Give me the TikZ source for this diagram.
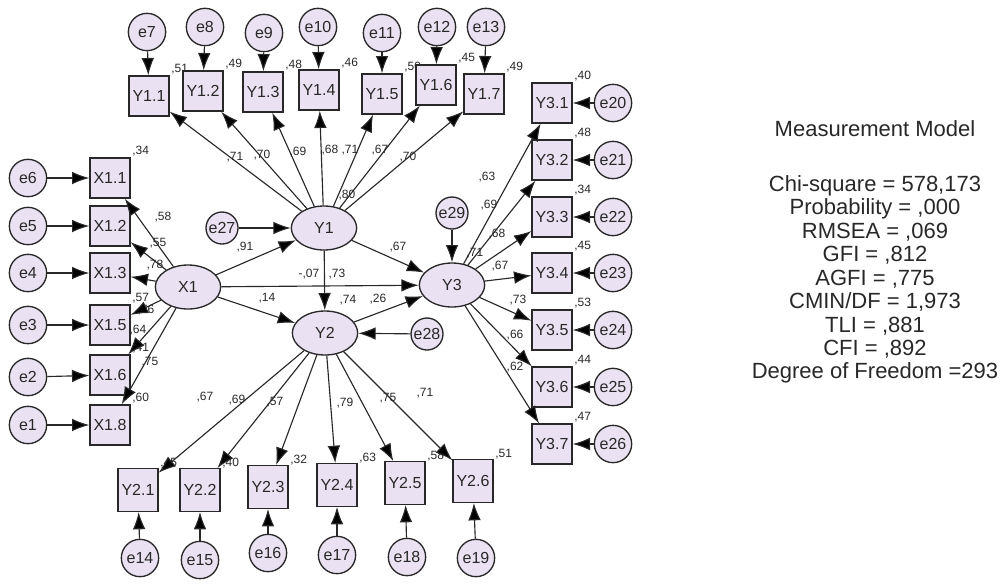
\documentclass[tikz,border=0pt]{standalone}
\usepackage{fontspec}
\setmainfont{Liberation Sans}
\usetikzlibrary{shapes.geometric,arrows.meta}
\definecolor{semfill}{RGB}{234,226,242}
\definecolor{semline}{RGB}{40,40,40}
\begin{document}
\begin{tikzpicture}[x=0.75pt,y=-0.75pt,
  obs/.style={rectangle,draw=semline,line width=1pt,fill=semfill,minimum width=30pt,minimum height=30pt,inner sep=0pt,text=semline,font=\fontsize{12}{12}\selectfont},
  err/.style={circle,draw=semline,line width=1pt,fill=semfill,minimum size=28pt,inner sep=0pt,text=semline,font=\fontsize{12}{12}\selectfont},
  res/.style={err,minimum size=24pt},
  lat/.style={ellipse,draw=semline,line width=1pt,fill=semfill,minimum width=49pt,minimum height=33pt,inner sep=0pt,text=semline,font=\fontsize{12}{12}\selectfont},
  num/.style={inner sep=1pt,text=semline,font=\fontsize{9}{9}\selectfont},
  arr/.style={-{Latex[length=13pt,width=9.5pt]},line width=0.85pt,draw=semline}]
\useasboundingbox (0,0) rectangle (1004,583);
\node[err] (e7) at (147,32) {e7};
\node[err] (e8) at (205,27) {e8};
\node[err] (e9) at (264,33) {e9};
\node[err] (e10) at (318,27) {e10};
\node[err] (e11) at (382,33) {e11};
\node[err] (e12) at (437,27) {e12};
\node[err] (e13) at (486,27) {e13};
\node[obs,label={[num]above right:,51}] (y11) at (149,96) {Y1.1};
\node[obs,label={[num]above right:,49}] (y12) at (203,91) {Y1.2};
\node[obs,label={[num]above right:,48}] (y13) at (263,92) {Y1.3};
\node[obs,label={[num]above right:,46}] (y14) at (319,90) {Y1.4};
\node[obs,label={[num]above right:,50}] (y15) at (382,94) {Y1.5};
\node[obs,label={[num]above right:,45}] (y16) at (436,85) {Y1.6};
\node[obs,label={[num]above right:,49}] (y17) at (484,94) {Y1.7};
\node[err] (e6) at (28,178) {e6};
\node[err] (e5) at (28,226) {e5};
\node[err] (e4) at (28,273) {e4};
\node[err] (e3) at (28,325) {e3};
\node[err] (e2) at (28,377) {e2};
\node[err] (e1) at (28,425) {e1};
\node[obs,label={[num]above right:,34}] (x11) at (110,178) {X1.1};
\node[obs] (x12) at (110,226) {X1.2};
\node[obs] (x13) at (110,273) {X1.3};
\node[obs,label={[num]above right:,57}] (x15) at (110,325) {X1.5};
\node[obs,label={[num]above right:,41}] (x16) at (110,375) {X1.6};
\node[obs,label={[num]above right:,60}] (x18) at (110,425) {X1.8};
\node[lat] (X1) at (188,287) {X1};
\node[lat] (Y1) at (324,228) {Y1};
\node[lat] (Y2) at (325,333) {Y2};
\node[lat] (Y3) at (452,285) {Y3};
\node[res] (e27) at (222,228) {e27};
\node[res] (e28) at (427,334) {e28};
\node[res] (e29) at (452,213) {e29};
\node[obs,label={[num]above right:,40}] (y31) at (552,103) {Y3.1};
\node[obs,label={[num]above right:,48}] (y32) at (552,160) {Y3.2};
\node[obs,label={[num]above right:,34}] (y33) at (552,217) {Y3.3};
\node[obs,label={[num]above right:,45}] (y34) at (552,273) {Y3.4};
\node[obs,label={[num]above right:,53}] (y35) at (552,330) {Y3.5};
\node[obs,label={[num]above right:,44}] (y36) at (552,387) {Y3.6};
\node[obs,label={[num]above right:,47}] (y37) at (552,444) {Y3.7};
\node[err] (e20) at (613,103) {e20};
\node[err] (e21) at (613,160) {e21};
\node[err] (e22) at (613,217) {e22};
\node[err] (e23) at (613,273) {e23};
\node[err] (e24) at (613,330) {e24};
\node[err] (e25) at (613,387) {e25};
\node[err] (e26) at (613,444) {e26};
\node[obs,minimum height=32pt,label={[num]above right:,45}] (y21) at (138,490) {Y2.1};
\node[obs,minimum height=32pt,label={[num]above right:,40}] (y22) at (200,490) {Y2.2};
\node[obs,minimum height=32pt,label={[num]above right:,32}] (y23) at (268,487) {Y2.3};
\node[obs,minimum height=32pt,label={[num]above right:,63}] (y24) at (337,485) {Y2.4};
\node[obs,minimum height=32pt,label={[num]above right:,58}] (y25) at (405,483) {Y2.5};
\node[obs,minimum height=32pt,label={[num]above right:,51}] (y26) at (473,481) {Y2.6};
\node[err] (e14) at (140,558) {e14};
\node[err] (e15) at (200,560) {e15};
\node[err] (e16) at (268,553) {e16};
\node[err] (e17) at (337,555) {e17};
\node[err] (e18) at (407,557) {e18};
\node[err] (e19) at (476,558) {e19};
\node[num] (ly11) at (235,157) {,71};
\node[num] (ly12) at (262,155) {,70};
\node[num] (ly13) at (298,152) {,69};
\node[num] (ly14) at (330,150) {,68};
\node[num] (ly15) at (350,150) {,71};
\node[num] (ly16) at (380,150) {,67};
\node[num] (ly17) at (408,157) {,70};
\node[num] (sY1) at (347,195) {,80};
\node[num] (sY2) at (348,300) {,74};
\node[num] (sY3) at (475,253) {,71};
\node[num] (pX1Y1) at (245,247) {,91};
\node[num] (pY1Y3) at (398,247) {,67};
\node[num] (pX1Y3) at (309,274) {-,07};
\node[num] (pY1Y2) at (337,274) {,73};
\node[num] (pX1Y2) at (267,298) {,14};
\node[num] (pY2Y3) at (378,299) {,26};
\node[num] (lx11) at (163,217) {,58};
\node[num] (lx12) at (158,243) {,55};
\node[num] (lx13) at (155,265) {,78};
\node[num] (lx15) at (146,310) {,76};
\node[num] (lx16) at (138,330) {,64};
\node[num] (lx18) at (150,362) {,75};
\node[num] (ly31) at (487,177) {,63};
\node[num] (ly32) at (489,205) {,69};
\node[num] (ly33) at (497,234) {,68};
\node[num] (ly34) at (500,266) {,67};
\node[num] (ly35) at (518,300) {,73};
\node[num] (ly36) at (515,335) {,66};
\node[num] (ly37) at (515,367) {,62};
\node[num] (ly21) at (205,397) {,67};
\node[num] (ly22) at (237,400) {,69};
\node[num] (ly23) at (275,402) {,57};
\node[num] (ly24) at (345,403) {,79};
\node[num] (ly25) at (388,398) {,75};
\node[num] (ly26) at (425,393) {,71};
\node[align=center,text=semline,font=\fontsize{16.5}{17.6}\selectfont] (fit) at (875,252) {Measurement Model\\[23.5pt]
Chi-square = 578,173\\ Probability = ,000\\ RMSEA = ,069\\ GFI = ,812\\ AGFI = ,775\\
CMIN/DF = 1,973\\ TLI = ,881\\ CFI = ,892\\ Degree of Freedom =293};
\draw[arr] (e7) edge (y11);
\draw[arr] (e8) edge (y12);
\draw[arr] (e9) edge (y13);
\draw[arr] (e10) edge (y14);
\draw[arr] (e11) edge (y15);
\draw[arr] (e12) edge (y16);
\draw[arr] (e13) edge (y17);
\draw[arr] (Y1) edge (y11);
\draw[arr] (Y1) edge (y12);
\draw[arr] (Y1) edge (y13);
\draw[arr] (Y1) edge (y14);
\draw[arr] (Y1) edge (y15);
\draw[arr] (Y1) edge (y16);
\draw[arr] (Y1) edge (y17);
\draw[arr] (e6) edge (x11);
\draw[arr] (e5) edge (x12);
\draw[arr] (e4) edge (x13);
\draw[arr] (e3) edge (x15);
\draw[arr] (e2) edge (x16);
\draw[arr] (e1) edge (x18);
\draw[arr] (X1) edge (x11);
\draw[arr] (X1) edge (x12);
\draw[arr] (X1) edge (x13);
\draw[arr] (X1) edge (x15);
\draw[arr] (X1) edge (x16);
\draw[arr] (X1) edge (x18);
\draw[arr] (X1) edge (Y1);
\draw[arr] (X1) edge (Y2);
\draw[arr] (X1) edge (Y3);
\draw[arr] (Y1) edge (Y2);
\draw[arr] (Y1) edge (Y3);
\draw[arr] (Y2) edge (Y3);
\draw[arr] (e27) edge (Y1);
\draw[arr] (e28) edge (Y2);
\draw[arr] (e29) edge (Y3);
\draw[arr] (Y3) edge (y31);
\draw[arr] (Y3) edge (y32);
\draw[arr] (Y3) edge (y33);
\draw[arr] (Y3) edge (y34);
\draw[arr] (Y3) edge (y35);
\draw[arr] (Y3) edge (y36);
\draw[arr] (Y3) edge (y37);
\draw[arr] (e20) edge (y31);
\draw[arr] (e21) edge (y32);
\draw[arr] (e22) edge (y33);
\draw[arr] (e23) edge (y34);
\draw[arr] (e24) edge (y35);
\draw[arr] (e25) edge (y36);
\draw[arr] (e26) edge (y37);
\draw[arr] (Y2) edge (y21);
\draw[arr] (Y2) edge (y22);
\draw[arr] (Y2) edge (y23);
\draw[arr] (Y2) edge (y24);
\draw[arr] (Y2) edge (y25);
\draw[arr] (Y2) edge (y26);
\draw[arr] (e14) edge (y21);
\draw[arr] (e15) edge (y22);
\draw[arr] (e16) edge (y23);
\draw[arr] (e17) edge (y24);
\draw[arr] (e18) edge (y25);
\draw[arr] (e19) edge (y26);
\end{tikzpicture}
\end{document}
